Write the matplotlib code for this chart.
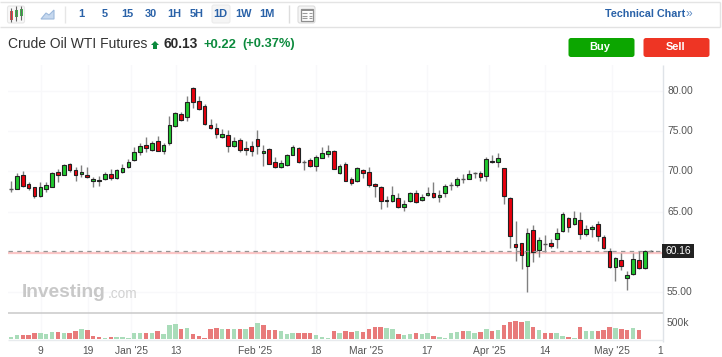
import matplotlib
matplotlib.use("Agg")
import matplotlib.pyplot as plt
from matplotlib.patches import Rectangle, FancyBboxPatch, Polygon

opens = [67.75,67.83,69.48,68.37,68.04,66.88,67.83,67.99,69.90,69.56,70.93,70.10,69.65,69.48,68.74,68.78,68.99,69.69,69.15,69.90,
         70.56,71.34,72.33,73.20,72.66,73.70,72.54,73.49,75.56,77.13,76.71,80.35,78.66,78.04,75.76,75.31,74.19,74.44,73.08,73.82,
         72.91,73.08,74.03,72.25,72.70,71.13,70.51,70.72,72.04,72.87,71.13,71.34,70.64,71.67,72.13,72.50,69.73,70.84,69.07,68.74,
         70.10,69.89,68.37,68.03,66.36,66.30,66.71,65.56,66.26,67.33,66.38,67.00,67.33,66.75,67.26,68.25,68.25,69.00,69.08,69.78,
         69.82,69.41,71.31,71.14,70.36,66.64,61.02,61.06,58.21,62.67,60.19,61.02,61.06,61.56,62.59,64.24,63.42,63.91,62.26,62.80,
         63.42,61.89,60.11,58.17,58.99,56.72,57.22,58.95,57.96,60.10]
highs = [68.78,69.81,70.06,68.70,68.08,68.61,68.66,69.94,70.23,70.89,70.97,70.47,70.76,70.56,69.23,69.40,69.90,70.23,70.23,70.93,
         71.47,73.04,73.45,74.19,73.78,74.36,73.45,76.84,77.37,77.37,79.32,80.47,79.32,78.37,76.42,75.93,75.18,75.10,74.19,74.07,
         73.70,73.70,75.10,73.24,72.83,71.75,71.38,72.08,73.24,72.95,71.38,71.59,72.00,73.03,73.24,72.62,70.84,71.17,69.32,70.47,
         70.31,70.56,68.49,68.11,66.92,68.16,67.25,66.42,67.41,67.66,67.13,68.08,68.70,67.66,68.42,68.70,69.32,69.61,70.15,69.90,
         70.07,71.72,72.01,72.22,70.36,66.76,63.87,61.06,62.92,63.33,61.89,62.09,61.60,62.92,64.94,64.37,65.11,64.94,63.29,63.33,
         63.83,62.05,60.44,59.41,59.82,57.67,59.82,60.11,60.23,60.25]
lows = [67.37,67.75,67.99,67.66,66.67,66.80,67.46,67.99,68.70,69.48,69.94,68.82,69.32,69.15,67.99,68.16,68.90,68.90,69.07,69.81,
        70.39,71.26,72.04,72.42,72.54,72.46,72.13,73.28,75.47,76.22,76.18,77.83,77.58,75.72,75.23,74.07,74.07,72.33,72.95,72.41,
        72.04,71.92,72.08,70.68,70.84,70.39,70.43,70.64,71.96,71.01,70.18,70.47,70.06,71.59,71.79,70.22,69.65,68.74,68.32,68.65,
        69.11,67.99,66.75,65.27,65.60,66.18,65.47,65.02,66.18,66.09,66.30,66.92,66.67,66.22,66.85,67.67,68.08,68.58,68.99,69.12,
        68.83,68.83,70.98,70.56,65.94,60.52,58.91,57.92,55.07,58.79,59.41,60.03,60.44,60.44,62.47,62.42,63.33,61.56,62.01,61.89,
        61.39,60.32,57.96,56.43,57.75,55.27,57.13,57.88,57.84,60.05]
closes = [67.78,69.44,68.12,67.95,66.88,68.04,68.24,69.81,69.56,70.72,70.18,69.56,69.90,69.28,68.99,68.86,69.61,69.19,70.10,70.43,
          71.13,72.33,73.08,72.83,73.53,72.54,73.20,75.68,77.21,76.30,78.53,78.57,77.70,75.80,75.35,74.56,74.56,73.12,73.70,72.58,
          72.66,72.46,73.12,72.54,70.93,70.47,70.97,71.96,73.03,71.13,71.10,70.60,71.75,72.21,72.46,70.27,70.64,68.82,68.57,70.35,
          69.73,68.24,68.16,66.30,66.42,67.00,65.56,65.89,67.33,66.18,66.75,67.33,66.79,67.08,68.13,68.29,69.08,69.04,69.61,69.82,
          69.28,71.47,71.14,71.68,66.93,61.93,60.61,59.57,62.30,60.03,61.43,61.06,60.73,62.38,64.66,63.04,64.24,62.26,62.80,63.04,
          61.97,60.44,58.13,59.20,58.25,57.09,59.08,58.00,60.11,60.13]
volumes_k = [80,130,130,130,200,180,150,220,230,180,200,250,310,280,100,80,30,80,80,80,
             50,180,200,200,180,250,150,430,460,310,330,160,100,30,310,330,310,310,310,310,
             310,360,480,430,280,280,250,160,180,200,200,200,130,80,30,250,200,250,230,250,
             230,310,360,360,330,310,160,130,160,200,160,200,100,80,30,180,230,250,250,200,
             230,310,250,280,430,530,550,530,550,360,280,200,200,200,100,80,30,360,250,250,
             250,280,360,330,310,280,330,280]
volume_dir = list("GGRRRGGGRGRRGRRRGRGGGGGRGRGGGRGRRRRRGRGRGRGRRRGGGRRRGGGRGRRGRRRRGGRGGRGGRGGGGRGGRGRGRRRRGRGRRGGRGRGGRRRGRRGR")
tick_pos = [5.06, 13.1, 20.45, 28.07, 41.53, 51.97, 60.5, 70.9, 81.45, 91.0, 102.4]
tick_labels = ["9", "19", "Jan '25", "13", "Feb '25", "18", "Mar '25", "17", "Apr '25", "14", "May '25"]
price_ticks = [55, 60, 65, 70, 75, 80]
last_price = 60.16
pink_price = 59.88
timeframes = ["1", "5", "15", "30", "1H", "5H", "1D", "1W", "1M"]

FONT = ["Liberation Sans", "DejaVu Sans"]
plt.rcParams["font.family"] = FONT
W, H = 722, 357
fig = plt.figure(figsize=(W / 100, H / 100), dpi=100, facecolor="white")

def px_axes(l, t, r, b):
    return fig.add_axes([l / W, 1 - b / H, (r - l) / W, (b - t) / H])

GRID = "#f8f8fa"
x0, dx = 11.0, 5.868
L, R = 8.0, 662.5
xlim = ((L - x0) / dx, (R - x0) / dx)

# price pane
ax = px_axes(L, 65, R, 312.7)
ax.set_xlim(*xlim)
ax.set_ylim(80 - (312.7 - 90.5) / 8.07, 80 + (90.5 - 65) / 8.07)
ax.set_facecolor("none")
for s in ax.spines.values():
    s.set_visible(False)
ax.set_xticks(tick_pos)
ax.set_xticklabels([])
ax.set_yticks(price_ticks)
ax.set_yticklabels([])
ax.tick_params(length=0)
ax.grid(True, color=GRID, lw=1)
ax.set_axisbelow(True)

idx = list(range(len(opens)))
ax.vlines(idx, lows, highs, color="#808080", lw=1.0, zorder=2)
for i, o, c in zip(idx, opens, closes):
    col = "#20c92e" if c >= o else "#e8000d"
    if abs(c - o) < 0.06:
        ax.hlines(o, i - 0.33, i + 0.33, color="#555555", lw=1.0, zorder=3)
    else:
        ax.bar(i, abs(c - o), bottom=min(o, c), width=0.62, facecolor=col,
               edgecolor="#222222", lw=0.8, zorder=3)
ax.axhline(pink_price, color="#fbc6c6", lw=1.6, zorder=1)
ax.axhline(last_price, color="#949494", lw=0.9, dashes=(3.5, 3.5), zorder=4)

# volume pane
vax = px_axes(L, 312.7, R, 339.3)
vax.set_xlim(*xlim)
vax.set_ylim(0, 26.6 * 30)
vax.set_facecolor("none")
for s in vax.spines.values():
    s.set_visible(False)
vax.set_xticks(tick_pos)
vax.set_xticklabels([])
vax.set_yticks([])
vax.tick_params(length=0)
vax.grid(True, axis="x", color=GRID, lw=1)
vax.set_axisbelow(True)
vcol = ["#a9dcb9" if d == "G" else "#e87a7a" for d in volume_dir]
vax.bar(range(len(volumes_k)), volumes_k, width=0.76, color=vcol, zorder=2)

# page furniture, in pixel coordinates
ui = fig.add_axes([0, 0, 1, 1], zorder=10)
ui.set_xlim(0, W)
ui.set_ylim(H, 0)
ui.axis("off")
ui.patch.set_alpha(0)

def line(x1, y1, x2, y2, c, lw=1.0):
    ui.plot([x1, x2], [y1, y2], color=c, lw=lw, solid_capstyle="butt")

def txt(x, y, s, size, c, ha="left", weight="normal", **kw):
    return ui.text(x, y, s, fontsize=size * 0.72, color=c, ha=ha, va="center", fontweight=weight, **kw)

# toolbar
line(0, 1.5, 720, 1.5, "#e4e4e4")
line(0, 26.5, 720, 26.5, "#e2e2e2")
line(719.5, 1.5, 719.5, 26.5, "#e4e4e4")
ui.add_patch(FancyBboxPatch((7.5, 6), 17, 17, boxstyle="round,pad=0,rounding_size=2", fc="#f8f8f8", ec="#e6e6e6", lw=0.8))
for xc, t, b, wt, wb, col in [(11, 11, 20, 8, 22, "#e8484a"), (16, 10, 17, 6, 21, "#3cb54a"), (21, 9, 16, 6, 20, "#3cb54a")]:
    line(xc, wt, xc, wb, "#666666", 0.8)
    ui.add_patch(Rectangle((xc - 1.5, t), 3, b - t, fc=col, ec="none"))
ui.add_patch(Polygon([(41, 19), (46, 13), (49, 15), (54, 10), (54, 19)], fc="#c6d8ee", ec="#9db9dc", lw=0.8))
line(65, 6, 65, 23, "#e6e6e6")
tf_x = [81, 104.5, 127.5, 151, 174, 197, 220.5, 244, 267]
ui.add_patch(FancyBboxPatch((212, 5), 18, 18, boxstyle="round,pad=0,rounding_size=2", fc="#f5f5f5", ec="#ececec", lw=0.8))
for x, s in zip(tf_x, timeframes):
    txt(x, 14.2, s, 11, "#2a62a8", ha="center", weight="bold")
line(288.5, 5, 288.5, 23, "#dddddd")
ui.add_patch(FancyBboxPatch((298, 6), 17, 17, boxstyle="round,pad=0,rounding_size=2", fc="#f5f5f5", ec="#dcdcdc", lw=0.8))
ui.add_patch(Rectangle((300.5, 8.5), 12, 12, fc="white", ec="#8f8f8f", lw=0.9))
ui.add_patch(Rectangle((300.5, 8.5), 12, 2.5, fc="#8f8f8f", ec="none"))
for y in (13, 15.5, 18):
    line(302, y, 307, y, "#9a9a9a", 0.8)
    line(308.5, y, 311.5, y, "#9a9a9a", 0.8)
txt(605, 14.2, "Technical Chart", 10.7, "#2a62a8", weight="bold")
txt(686, 13.6, "»", 12, "#5f8cc4")

# headline
txt(8, 44.5, "Crude Oil WTI Futures", 13.85, "#333333")
ui.add_patch(Polygon([(155, 41), (159, 45), (157, 45), (157, 49), (153, 49), (153, 45), (151, 45)], fc="#0c8a3d", ec="none"))
txt(163, 44.5, "60.13", 13.8, "#2b2b2b", weight="bold")
txt(203, 44.5, "+0.22", 13, "#0c8a3d", weight="bold")
txt(242, 44.5, "(+0.37%)", 12.9, "#0c8a3d", weight="bold")

# buttons
ui.add_patch(FancyBboxPatch((568.5, 38), 66, 19, boxstyle="round,pad=0,rounding_size=2.5", fc="#0ca600", ec="none"))
ui.add_patch(FancyBboxPatch((643.5, 38), 66, 19, boxstyle="round,pad=0,rounding_size=2.5", fc="#ee3524", ec="none"))
txt(600, 47.5, "Buy", 11, "white", ha="center", weight="bold")
txt(676, 47.5, "Sell", 11, "white", ha="center", weight="bold")

# axis furniture
line(R, 65, R, 342, "#dfe3e8")
line(L, 312.7, R, 312.7, "#c9c9c9", 1.1)
line(L, 339.5, R, 339.5, "#e8ebee")
y_of = lambda p: 90.5 + (80 - p) * 8.07
for p in price_ticks:
    if p != 60:
        txt(667, y_of(p), f"{p:.2f}", 10.3, "#555555")
txt(667, 322.8, "500k", 10.3, "#555555")
ui.add_patch(Rectangle((661.7, 243.5), 32.3, 14.5, fc="#222222", ec="none", zorder=6))
txt(666, 251, f"{last_price:.2f}", 10.3, "white", zorder=7)
for p, s in zip(tick_pos, tick_labels):
    txt(x0 + p * dx, 350.7, s, 10.3, "#555555", ha="center")
txt(660, 350.7, "1", 10.3, "#555555", ha="center")

# watermark
txt(21.5, 292.5, "Investing", 19.2, "#c8c8c8", weight="bold")
txt(107.5, 294, ".com", 13.6, "#d2d2d2")

fig.savefig("out.png", dpi=100)
